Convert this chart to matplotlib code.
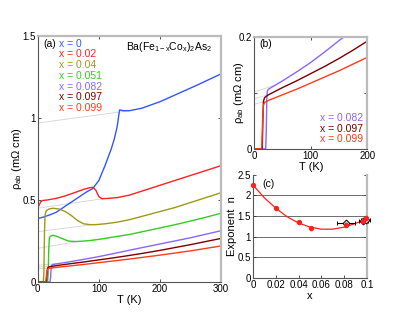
import matplotlib
matplotlib.use("Agg")
import matplotlib.pyplot as plt

plt.rcParams['font.family'] = ['Liberation Sans', 'DejaVu Sans']
plt.rcParams['mathtext.fontset'] = 'custom'
plt.rcParams['mathtext.rm'] = 'Liberation Sans'
plt.rcParams['mathtext.it'] = 'Liberation Sans:italic'
plt.rcParams['font.size'] = 7

# panel (a) / (b): resistivity curves rho_ab(T), mOhm cm
t_x0 = [3, 10, 20, 30, 40, 50, 60, 70, 80, 90, 100, 110, 120, 125, 130, 133, 134, 140, 150, 170, 200, 230, 260, 300]
r_x0 = [0.39, 0.397, 0.41, 0.425, 0.45, 0.475, 0.50, 0.525, 0.55, 0.57, 0.62, 0.71, 0.81, 0.87, 0.95, 1.03, 1.05, 1.045, 1.045, 1.06, 1.10, 1.15, 1.20, 1.27]

t_x002 = [1, 3, 5, 8, 15, 30, 45, 60, 75, 85, 90, 95, 100, 105, 115, 130, 150, 175, 200, 225, 250, 275, 300]
r_x002 = [0.46, 0.475, 0.49, 0.497, 0.50, 0.51, 0.525, 0.545, 0.565, 0.575, 0.578, 0.56, 0.52, 0.508, 0.51, 0.515, 0.53, 0.56, 0.59, 0.62, 0.65, 0.68, 0.71]

t_x004 = [2, 9, 10, 11, 12, 14, 18, 25, 35, 45, 55, 65, 75, 85, 95, 110, 130, 150, 175, 200, 225, 250, 275, 300]
r_x004 = [0, 0, 0.05, 0.3, 0.41, 0.435, 0.445, 0.45, 0.445, 0.43, 0.405, 0.375, 0.355, 0.35, 0.35, 0.355, 0.365, 0.38, 0.405, 0.43, 0.455, 0.485, 0.515, 0.545]

t_x0051 = [2, 16, 17, 18, 19, 21, 25, 30, 40, 50, 60, 70, 85, 100, 125, 150, 175, 200, 225, 250, 275, 300]
r_x0051 = [0, 0, 0.05, 0.2, 0.27, 0.28, 0.285, 0.28, 0.265, 0.25, 0.247, 0.248, 0.253, 0.26, 0.275, 0.29, 0.31, 0.33, 0.35, 0.372, 0.395, 0.42]

t_x0082 = [3, 20, 21, 22, 23, 25, 50, 75, 100, 125, 150, 175, 200, 250, 300]
r_x0082 = [0, 0, 0.03, 0.09, 0.104, 0.107, 0.122, 0.138, 0.155, 0.174, 0.194, 0.213, 0.232, 0.27, 0.313]

t_x0097 = [3, 14, 15, 16, 18, 25, 50, 75, 100, 125, 150, 175, 200, 250, 300]
r_x0097 = [0, 0, 0.05, 0.085, 0.092, 0.097, 0.11, 0.122, 0.135, 0.148, 0.162, 0.177, 0.193, 0.228, 0.266]

t_x0099 = [3, 13, 14.5, 16, 18, 25, 50, 75, 100, 125, 150, 175, 200, 250, 300]
r_x0099 = [0, 0, 0.05, 0.078, 0.083, 0.087, 0.097, 0.107, 0.118, 0.129, 0.14, 0.152, 0.164, 0.19, 0.22]

# grey extrapolated fits (start / end points)
fit_t = [[0, 150], [0, 110], [0, 90], [0, 70], [0, 35], [0, 30], [0, 30]]
fit_r = [[0.97, 1.045], [0.45, 0.51], [0.307, 0.35], [0.205, 0.25], [0.102, 0.114], [0.09, 0.099], [0.08, 0.088]]

labels = ['x = 0', 'x = 0.02', 'x = 0.04', 'x = 0.051', 'x = 0.082', 'x = 0.097', 'x = 0.099']
colors = ['#3355ff', '#ff2020', '#a09818', '#33cc22', '#8866ff', '#7a0000', '#ff3a1a']

# panel (c): exponent n vs x
x_red = [0.0, 0.02, 0.04, 0.051, 0.082, 0.097, 0.099]
n_red = [2.25, 1.69, 1.35, 1.2, 1.28, 1.38, 1.46]
x_blk = [0.082, 0.097, 0.099]
n_blk = [1.33, 1.38, 1.4]
xerr_blk = [0.008, 0.004, 0.004]
x_fit = [0, 0.01, 0.02, 0.03, 0.04, 0.05, 0.06, 0.07, 0.08, 0.09, 0.097]
n_fit = [2.25, 1.94, 1.69, 1.48, 1.33, 1.23, 1.18, 1.18, 1.23, 1.32, 1.40]

series = [(t_x0, r_x0), (t_x002, r_x002), (t_x004, r_x004), (t_x0051, r_x0051),
          (t_x0082, r_x0082), (t_x0097, r_x0097), (t_x0099, r_x0099)]

fig = plt.figure(figsize=(4.15, 3.21), dpi=100)


def style(ax, hide_top=False):
    for s in ['left', 'bottom']:
        ax.spines[s].set_color('#555555')
        ax.spines[s].set_linewidth(0.8)
    for s in ['top', 'right']:
        ax.spines[s].set_color('#bbbbbb')
        ax.spines[s].set_linewidth(1.6)
    if hide_top:
        ax.spines['top'].set_visible(False)
    ax.tick_params(direction='in', length=2.5, width=0.6, top=not hide_top, right=True,
                   labelsize=7, pad=1.5, colors='#333333', labelcolor='black')


# (a)
ax1 = fig.add_axes([0.091, 0.1215, 0.442, 0.766])
for (t, r), c in zip(series, colors):
    ax1.plot(t, r, color=c, lw=1.0)
for t, r in zip(fit_t, fit_r):
    ax1.plot(t, r, color='#d4d4d4', lw=0.6, zorder=0)
ax1.set_xlim(0, 300)
ax1.set_ylim(0, 1.5)
ax1.set_xticks([0, 100, 200, 300])
ax1.set_yticks([0, 0.5, 1, 1.5])
ax1.set_yticklabels(['0', '0.5', '1', '1.5'])
style(ax1)
ax1.set_xlabel('T (K)', fontsize=8, labelpad=1)
ax1.set_ylabel('ρ$_{\\mathrm{ab}}$ (mΩ cm)', fontsize=8)
ax1.yaxis.set_label_coords(-0.075, 0.5)
ax1.text(0.03, 0.969, '(a)', transform=ax1.transAxes, fontsize=7.5, va='center')
for i, (lab, c) in enumerate(zip(labels, colors)):
    ax1.text(0.115, 0.969 - i * 0.0435, lab, color=c, transform=ax1.transAxes,
             fontsize=7.5, va='center')
ax1.text(0.95, 0.955, 'Ba(Fe$_{\\mathrm{1-x}}$Co$_{\\mathrm{x}}$)$_{\\mathrm{2}}$As$_{\\mathrm{2}}$',
         transform=ax1.transAxes, fontsize=7.5, ha='right', va='center')

# (b)
ax2 = fig.add_axes([0.613, 0.536, 0.272, 0.348])
for (t, r), c in list(zip(series, colors))[4:]:
    ax2.plot(t, r, color=c, lw=1.0)
for t, r in list(zip(fit_t, fit_r))[4:]:
    ax2.plot(t, r, color='#d4d4d4', lw=0.6, zorder=0)
ax2.set_xlim(0, 200)
ax2.set_ylim(0, 0.2)
ax2.set_xticks([0, 100, 200])
ax2.set_yticks([0, 0.1, 0.2])
ax2.set_yticklabels(['0', '', '0.2'])
style(ax2)
ax2.set_xlabel('T (K)', fontsize=8, labelpad=1)
ax2.set_ylabel('ρ$_{\\mathrm{ab}}$ (mΩ cm)', fontsize=8)
ax2.yaxis.set_label_coords(-0.07, 0.5)
ax2.text(0.04, 0.94, '(b)', transform=ax2.transAxes, fontsize=7.5, va='center')
for i, (lab, c) in enumerate(list(zip(labels, colors))[4:]):
    ax2.text(0.96, 0.275 - i * 0.094, lab, color=c, transform=ax2.transAxes,
             fontsize=7.5, ha='right', va='center')

# (c)
ax3 = fig.add_axes([0.610, 0.135, 0.274, 0.32])
for g in [0.5, 1, 1.5, 2]:
    ax3.axhline(g, color='#555555', lw=0.6, zorder=0)
ax3.plot(x_fit, n_fit, color='#ff2020', lw=0.9)
ax3.errorbar(x_blk, n_blk, xerr=xerr_blk, fmt='D', ms=3.5, mfc='#dddddd', mec='black',
             mew=0.7, ecolor='black', elinewidth=0.8, capsize=1.5, clip_on=False, zorder=3)
ax3.errorbar(x_red, n_red, xerr=0.001, yerr=0.04, fmt='o', ms=2.8, color='#ff2020',
             elinewidth=0.8, capsize=1, clip_on=False, zorder=4)
ax3.set_xlim(0, 0.1)
ax3.set_ylim(0, 2.5)
ax3.set_xticks([0, 0.02, 0.04, 0.06, 0.08, 0.1])
ax3.set_xticklabels(['0', '0.02', '0.04', '0.06', '0.08', '0.1'])
ax3.set_yticks([0, 0.5, 1, 1.5, 2, 2.5])
ax3.set_yticklabels(['0', '0.5', '1', '1.5', '2', '2.5'])
style(ax3, hide_top=True)
ax3.set_xlabel('x', fontsize=8, labelpad=1)
ax3.set_ylabel('Exponent  n', fontsize=8)
ax3.yaxis.set_label_coords(-0.14, 0.5)
ax3.text(0.085, 0.91, '(c)', transform=ax3.transAxes, fontsize=7.5, va='center')

fig.savefig('out.png', dpi=100)
